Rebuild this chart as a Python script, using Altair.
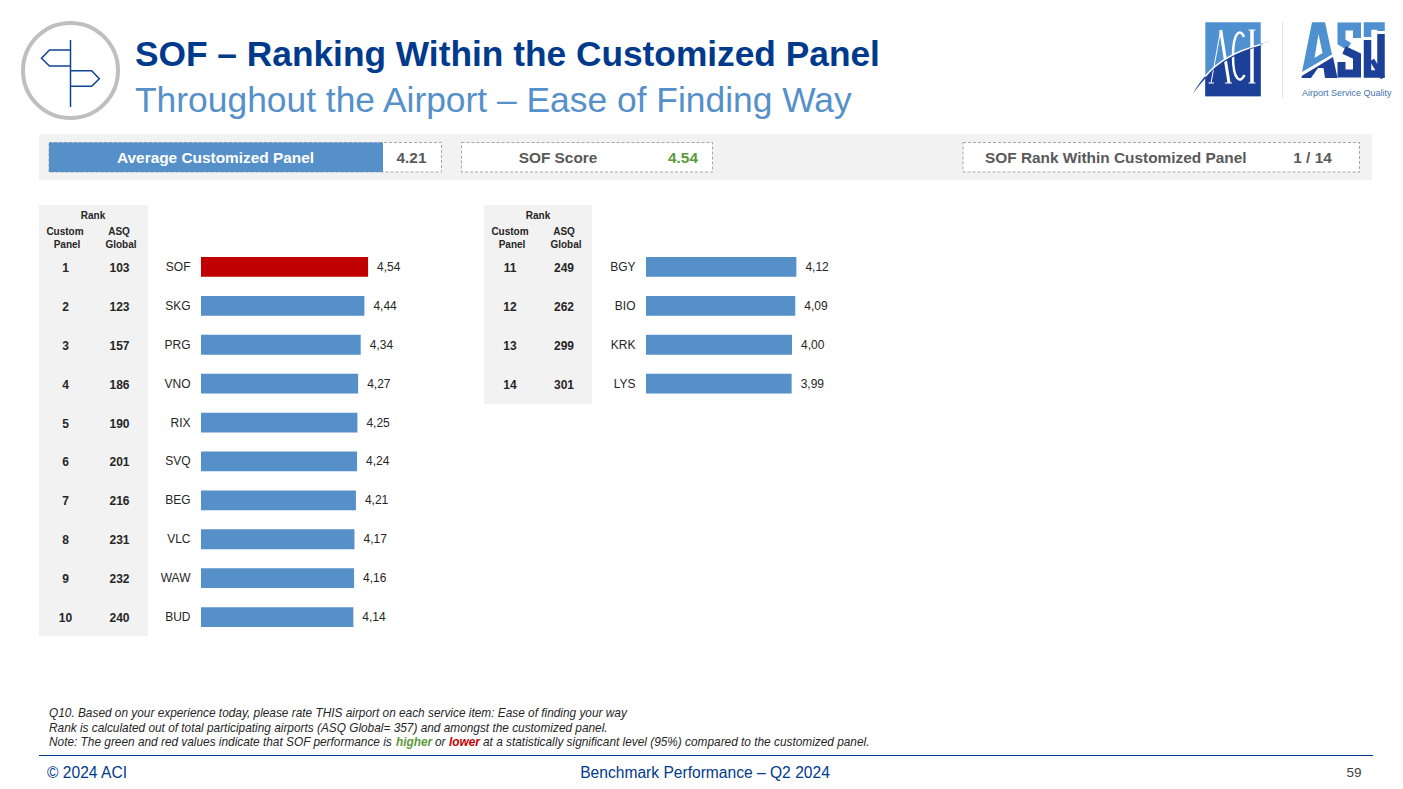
import altair as alt

airports_a = ["SOF", "SKG", "PRG", "VNO", "RIX", "SVQ", "BEG", "VLC", "WAW", "BUD"]
scores_a = [4.54, 4.44, 4.34, 4.27, 4.25, 4.24, 4.21, 4.17, 4.16, 4.14]
panel_a = [1, 2, 3, 4, 5, 6, 7, 8, 9, 10]
global_a = [103, 123, 157, 186, 190, 201, 216, 231, 232, 240]

airports_b = ["BGY", "BIO", "KRK", "LYS"]
scores_b = [4.12, 4.09, 4.00, 3.99]
panel_b = [11, 12, 13, 14]
global_b = [249, 262, 299, 301]

FONT = "Liberation Sans"
BLUE = "#5590C9"
NAVY = "#003A8C"
RED = "#C00000"
GREEN = "#5B9A3A"
GREY = "#595959"
PANEL = "#F2F2F2"
DASH = "#A6A6A6"
LOGO_D = "#1C4097"
LOGO_L = "#4F90D0"
STEP = 38.9

dummy = alt.Data(values=[{"a": 1}])


def box(x0, y0, x1, y1, fill=None, stroke=None, dash=None, sw=1):
    kw = {}
    if fill:
        kw["fill"] = fill
    else:
        kw["fillOpacity"] = 0
    if stroke:
        kw["stroke"] = stroke
        kw["strokeWidth"] = sw
    if dash:
        kw["strokeDash"] = dash
    return alt.Chart(dummy).mark_rect(**kw).encode(
        x=alt.value(x0 - 8), x2=alt.value(x1 - 8), y=alt.value(y0 - 8), y2=alt.value(y1 - 8)
    )


def label(s, x, y, size, color="#000000", align="left", weight="normal", style="normal", font=FONT):
    return alt.Chart(dummy).mark_text(
        text=s, align=align, baseline="alphabetic", font=font, fontSize=size,
        fontWeight=weight, fontStyle=style, color=color,
    ).encode(x=alt.value(x - 8), y=alt.value(y - 8))


def shape(d, fill=None, stroke=None, sw=1):
    kw = {"shape": d, "size": 4, "opacity": 1}
    if fill:
        kw.update(filled=True, fill=fill)
    else:
        kw.update(filled=False)
    if stroke:
        kw.update(stroke=stroke, strokeWidth=sw)
    else:
        kw.update(strokeWidth=0)
    return alt.Chart(dummy).mark_point(**kw).encode(x=alt.value(-8), y=alt.value(-8))


def rows(names, scores, panel, glob, origin, span, label_x, col1, col2):
    data = alt.Data(values=[
        {"airport": n, "score": s, "panel": p, "global": g,
         "kind": "SOF" if n == "SOF" else "other",
         "txt": f"{s:.2f}".replace(".", ",")}
        for n, s, p, g in zip(names, scores, panel, glob)
    ])
    top = 247.5 - 8
    y_scale = alt.Scale(domain=names, range=[top, top + STEP * len(names)], paddingInner=0.49, paddingOuter=0.245)
    x_scale = alt.Scale(domain=[0, 5], range=[origin - 8, origin - 8 + span])
    y = alt.Y("airport:N", scale=y_scale, axis=None, sort=None)
    x = alt.X("score:Q", scale=x_scale, axis=None)
    bars = alt.Chart(data).mark_bar().encode(
        x=x, y=y,
        color=alt.Color("kind:N", scale=alt.Scale(domain=["SOF", "other"], range=[RED, BLUE]), legend=None),
    )
    vals = alt.Chart(data).mark_text(align="left", dx=9, font=FONT, fontSize=12, color="#262626").encode(
        x=x, y=y, text="txt:N"
    )
    names_t = alt.Chart(data).mark_text(align="right", font=FONT, fontSize=12, color="#262626").encode(
        x=alt.value(label_x - 8), y=y, text="airport:N"
    )
    c1 = alt.Chart(data).mark_text(align="center", dy=1, font=FONT, fontSize=12, fontWeight="bold", color="#262626").encode(
        x=alt.value(col1 - 8), y=y, text="panel:Q"
    )
    c2 = alt.Chart(data).mark_text(align="center", dy=1, font=FONT, fontSize=12, fontWeight="bold", color="#262626").encode(
        x=alt.value(col2 - 8), y=y, text="global:Q"
    )
    return [bars, vals, names_t, c1, c2]


KPI = 15.4
layers = [
    # title icon
    shape("M23 70.5A47.5 47.5 0 1 1 118 70.5A47.5 47.5 0 1 1 23 70.5Z", stroke="#BFBFBF", sw=4),
    shape("M70.5 40L70.5 107", stroke="#0F4496", sw=1.5),
    shape("M70.5 50L49.5 50L41.5 58.3L49.5 66L70.5 66", stroke="#0F4496", sw=1.5),
    shape("M70.5 70.7L91.7 70.7L99.3 78.7L91.7 86.3L70.5 86.3", stroke="#0F4496", sw=1.5),
    label("SOF – Ranking Within the Customized Panel", 135, 66, 35.3, NAVY, weight="bold"),
    label("Throughout the Airport – Ease of Finding Way", 135, 112, 35.4, BLUE),
    # ACI logo
    box(1205.3, 22.3, 1260.7, 96.3, fill=LOGO_L),
    shape("M1205.3 76C1218 60 1238 50 1260.7 44L1260.7 96.3L1205.3 96.3Z", fill=LOGO_D),
    shape("M1211 83L1220.7 30", stroke="#FFFFFF", sw=1),
    shape("M1220.7 30L1229 83", stroke="#FFFFFF", sw=3),
    shape("M1208.5 83L1214 83M1225 83L1232 83", stroke="#FFFFFF", sw=1),
    shape("M1244 37C1241 29 1233 30 1233 56C1233 82 1241 83 1244.5 75", stroke="#FFFFFF", sw=2.5),
    shape("M1252 30L1252 83", stroke="#FFFFFF", sw=3.5),
    shape("M1248.5 30L1255.5 30M1248.5 83L1255.5 83", stroke="#FFFFFF", sw=1),
    shape("M1192.7 94C1197 86 1201 81 1205.3 76C1218 60 1238 50 1260.7 44C1265 42.5 1269 41.3 1273.3 40.7C1266 41.8 1262 43 1260.7 45.5C1238 53 1218 63 1205.3 78.5C1201 83 1197 88 1192.7 94Z",
          fill=LOGO_D),
    shape("M1205.3 76.5C1218 60.5 1238 50.5 1260.7 44.5", stroke="#FFFFFF", sw=1.5),
    box(1282, 22, 1283, 98, fill="#E4E4E4"),
    # ASQ logo
    shape("M1302 72L1312 22.3L1325 22.3L1332 54.5ZM1318.5 34L1314.5 58L1322.5 53Z", fill=LOGO_L),
    shape("M1301.7 78L1301.7 76L1333 57L1337.5 78L1325 78L1323.5 68L1318 68L1311 78Z", fill=LOGO_D),
    shape("M1357 38L1357 26.5L1341.5 26.5L1341.5 42L1349 46.5", stroke=LOGO_L, sw=8),
    shape("M1344 50L1357 56L1357 73.5L1341.5 73.5L1341.5 62", stroke=LOGO_D, sw=8),
    shape("M1367.5 37L1367.5 26L1381 26L1381 31", stroke=LOGO_L, sw=7.5),
    shape("M1367.5 40L1367.5 74L1381 74L1381 34", stroke=LOGO_D, sw=7.5),
    shape("M1372 60L1383 78", stroke=LOGO_D, sw=5),
    label("Airport Service Quality", 1302, 96, 9, "#3F73AE"),
    # KPI band
    box(39, 134, 1372, 180, fill=PANEL),
    box(49, 142.5, 441.5, 172, fill="#FFFFFF", stroke=DASH, dash=[3, 2]),
    box(49, 142.5, 383, 172, fill=BLUE),
    label("Average Customized Panel", 215.5, 163, KPI, "#FFFFFF", align="center", weight="bold"),
    label("4.21", 411.5, 163, KPI, GREY, align="center", weight="bold"),
    box(461.5, 142.5, 712.5, 172, fill="#FFFFFF", stroke=DASH, dash=[3, 2]),
    label("SOF Score", 558, 163, KPI, GREY, align="center", weight="bold"),
    label("4.54", 683, 163, KPI, GREEN, align="center", weight="bold"),
    box(963, 142.5, 1359.5, 172, fill="#FFFFFF", stroke=DASH, dash=[3, 2]),
    label("SOF Rank Within Customized Panel", 985, 163, KPI, GREY, weight="bold"),
    label("1 / 14", 1312.5, 163, KPI, GREY, align="center", weight="bold"),
    # rank panels
    box(39, 205, 148, 636, fill=PANEL),
    box(484, 205, 592, 404, fill=PANEL),
]

for off in (0, 445):
    layers += [
        label("Rank", 93 + off, 219, 10, "#262626", align="center", weight="bold"),
        label("Custom", 65 + off, 235, 10, "#262626", align="center", weight="bold"),
        label("Panel", 67 + off, 248, 10, "#262626", align="center", weight="bold"),
        label("ASQ", 119 + off, 235, 10, "#262626", align="center", weight="bold"),
        label("Global", 121 + off, 248, 10, "#262626", align="center", weight="bold"),
    ]

layers += rows(airports_a, scores_a, panel_a, global_a, 201, 184, 190.5, 65.5, 119.5)
layers += rows(airports_b, scores_b, panel_b, global_b, 646, 182.5, 635.5, 510, 564)

NOTE = "#262626"
NS = 11.85
layers += [
    label("Q10. Based on your experience today, please rate THIS airport on each service item: Ease of finding your way", 49, 717, NS, NOTE, style="italic"),
    label("Rank is calculated out of total participating airports (ASQ Global= 357) and amongst the customized panel.", 49, 732, NS, NOTE, style="italic"),
    label("Note: The green and red values indicate that SOF performance is", 49, 746, NS, NOTE, style="italic"),
    label("higher", 396, 746, NS, GREEN, style="italic", weight="bold"),
    label("or", 435, 746, NS, NOTE, style="italic"),
    label("lower", 449, 746, NS, RED, style="italic", weight="bold"),
    label("at a statistically significant level (95%) compared to the customized panel.", 483, 746, NS, NOTE, style="italic"),
    box(39, 755, 1373, 756, fill=NAVY),
    label("© 2024 ACI", 47, 778, 15.6, NAVY),
    label("Benchmark Performance – Q2 2024", 705, 778, 15.6, NAVY, align="center"),
    label("59", 1354, 777, 13.5, "#404040", align="center"),
]

chart = (
    alt.layer(*layers)
    .resolve_scale(x="independent", y="independent")
    .properties(width=1387, height=773, padding=0, autosize=alt.AutoSizeParams(type="none"), background="#FFFFFF")
    .configure_view(stroke=None)
)

chart.save("out.html", embed_options={"renderer": "svg", "actions": False})
